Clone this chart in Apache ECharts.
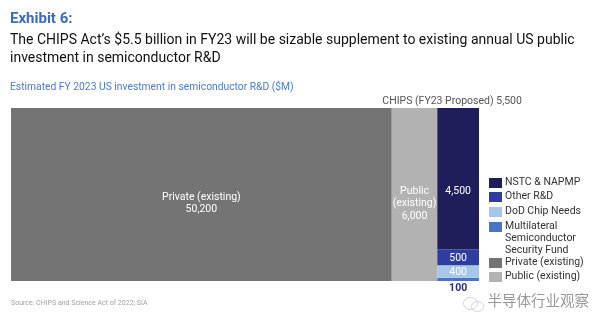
<!DOCTYPE html>
<html><head><meta charset="utf-8">
<script src="https://cdn.jsdelivr.net/npm/echarts@6/dist/echarts.min.js"></script>
<style>html,body{margin:0;padding:0;background:#fff}#c{width:592px;height:322px}</style>
</head><body><div id="c"></div>
<script>
// ---- data ----
var columns = ['Private (existing)', 'Public (existing)', 'CHIPS (FY23 Proposed)'];
var columnTotals = [50200, 6000, 5500];
var chipsNames = ['Multilateral Semiconductor Security Fund', 'DoD Chip Needs', 'Other R&D', 'NSTC & NAPMP']; // bottom -> top
var chipsValues = [100, 400, 500, 4500];
var legendNames = ['NSTC & NAPMP', 'Other R&D', 'DoD Chip Needs', 'Multilateral\nSemiconductor\nSecurity Fund', 'Private (existing)', 'Public (existing)'];

var FONT = 'Roboto, sans-serif';
var colors = {
  'Private (existing)': '#747474',
  'Public (existing)': '#b2b2b2',
  'NSTC & NAPMP': '#1f1e5a',
  'Other R&D': '#2f3da0',
  'DoD Chip Needs': '#a6c6ea',
  'Multilateral Semiconductor Security Fund': '#4674c6'
};
function fmt(v){ return v.toLocaleString('en-US'); }

// build segments
var segs = [];
var x = 0;
segs.push({value:[x, x + columnTotals[0], 0, 1], name:'Private (existing)', label:'Private (existing)\n' + fmt(columnTotals[0]), lc:'#fff', pos:'col'});
x += columnTotals[0];
segs.push({value:[x, x + columnTotals[1], 0, 1], name:'Public (existing)', label:'Public\n(existing)\n' + fmt(columnTotals[1]), lc:'#fff', pos:'col'});
x += columnTotals[1];
var cum = 0;
for (var i = 0; i < chipsValues.length; i++) {
  var y0 = cum / columnTotals[2];
  cum += chipsValues[i];
  var y1 = cum / columnTotals[2];
  segs.push({value:[x, x + columnTotals[2], y0, y1], name:chipsNames[i], label:fmt(chipsValues[i]),
    lc: i === 0 ? '#2a2c78' : '#fff', pos: i === 0 ? 'below' : (i === 3 ? 'big' : 'in')});
}
var xMax = x + columnTotals[2];
var chipsMid = x + columnTotals[2] / 2;

var chart = echarts.init(document.getElementById('c'));
var legendGraphics = [];
var ly = [183, 197, 212, 227, 263, 277];
legendNames.forEach(function(n, i){
  var key = n.replace(/\n/g, ' ');
  legendGraphics.push({type:'rect', left:489, top:ly[i]-5, shape:{width:13, height:10}, style:{fill:colors[key]}});
  legendGraphics.push({type:'text', left:505, top:ly[i]-6.5, style:{text:n, fill:'#333', font:'10.5px ' + FONT, lineHeight:12}});
});

chart.setOption({
  animation:false,
  grid:{left:11, right:113, top:108, bottom:41},
  xAxis:{type:'value', min:0, max:xMax, show:false},
  yAxis:{type:'value', min:0, max:1, show:false},
  graphic: [
    {type:'text', left:10, top:12, style:{text:'Exhibit 6:', fill:'#3b6cc5', font:'bold 15px ' + FONT}},
    {type:'text', left:10, top:32, style:{text:'The CHIPS Act\u2019s $5.5 billion in FY23 will be sizable supplement to existing annual US public\ninvestment in semiconductor R&D', fill:'#111', font:'14px ' + FONT, lineHeight:17.5}},
    {type:'text', left:10, top:82, style:{text:'Estimated FY 2023 US investment in semiconductor R&D ($M)', fill:'#4a7bd0', font:'10.3px ' + FONT}},
    {type:'text', left:11, top:300, style:{text:'Source: CHIPS and Science Act of 2022; SIA', fill:'#a0a0a0', font:'7px ' + FONT}},
    {type:'text', right:3, top:293, style:{text:'半导体行业观察', fill:'#9a9a9a', font:'14.5px "Noto Sans CJK SC"'}},
    {type:'ellipse', left:461, top:295, shape:{rx:7, ry:6}, style:{fill:'none', stroke:'#cfcfcf', lineWidth:1}},
    {type:'ellipse', left:469, top:299, shape:{rx:6, ry:5}, style:{fill:'none', stroke:'#cfcfcf', lineWidth:1}}
  ].concat(legendGraphics),
  series:[{
    type:'custom',
    data: segs,
    renderItem: function(params, api){
      var s = segs[params.dataIndex];
      var p0 = api.coord([s.value[0], s.value[3]]);
      var p1 = api.coord([s.value[1], s.value[2]]);
      var w = p1[0] - p0[0], h = p1[1] - p0[1];
      var children = [{type:'rect', shape:{x:p0[0], y:p0[1], width:w, height:h}, style:{fill:colors[s.name]}}];
      var tx = p0[0] + w/2, ty;
      if (s.pos === 'below') ty = p1[1] + 7;
      else if (s.pos === 'big') ty = p0[1] + h/2 + 13;
      else if (s.pos === 'col') ty = p0[1] + h/2 + 9;
      else ty = p0[1] + h/2 + 0.5;
      children.push({type:'text', style:{text:s.label, x:tx, y:ty, fill:s.lc, font:(s.pos==='below'?'bold ':'') + '10.5px ' + FONT, align:'center', verticalAlign:'middle', lineHeight:12.5}});
      return {type:'group', children:children};
    }
  }, {
    type:'custom',
    data:[[chipsMid, 1]],
    renderItem: function(params, api){
      var p = api.coord([chipsMid, 1]);
      return {type:'text', style:{text:columns[2] + ' ' + fmt(columnTotals[2]), x:p[0] - 6, y:p[1]-7, fill:'#555', font:'10.5px ' + FONT, align:'center', verticalAlign:'middle'}};
    }
  }]
});
</script></body></html>
